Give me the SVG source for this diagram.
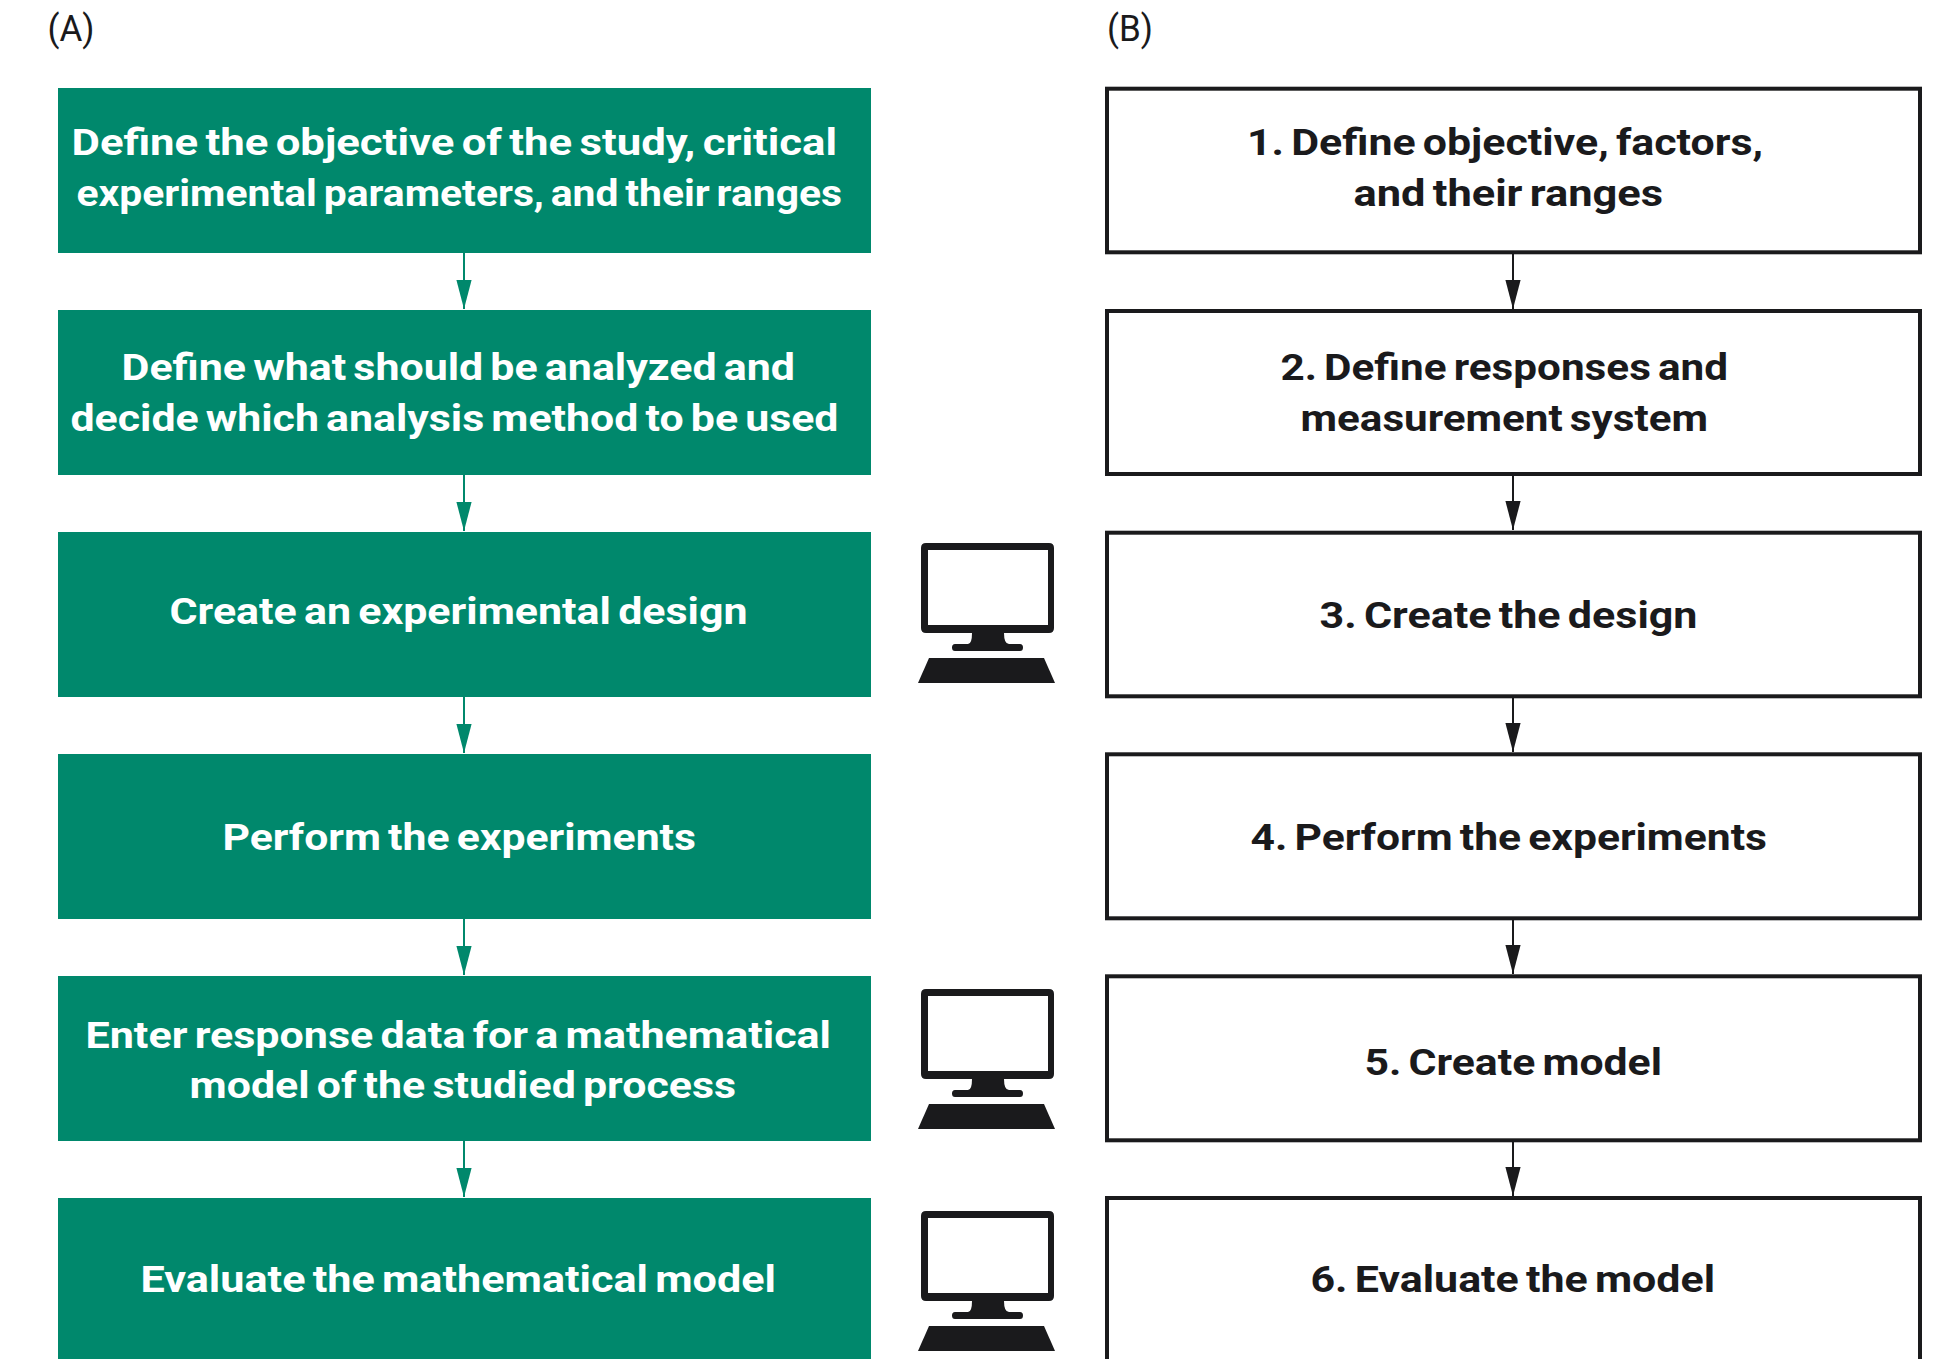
<svg xmlns="http://www.w3.org/2000/svg" width="1946" height="1359" viewBox="0 0 1946 1359">
<style>
text{font-family:"Roboto","Liberation Sans",sans-serif;font-size:37px;font-weight:700;word-spacing:-3px}
.g{fill:#00886c}.w{fill:#fff}.k{fill:#1a1a1c}
.b{fill:#fff;stroke:#1a1a1c;stroke-width:4}
text.lab{font-weight:400;font-size:37px;fill:#1a1a1c}
.cg{stroke:#00886c;stroke-width:2;fill:none;marker-end:url(#ag)}
.ck{stroke:#1a1a1c;stroke-width:2;fill:none;marker-end:url(#ak)}
</style>
<defs>
<marker id="ag" markerUnits="userSpaceOnUse" markerWidth="16" markerHeight="29" refX="8" refY="29" viewBox="0 0 16 29"><path d="M0.4 0H15.6L8 29Z" fill="#00886c"/></marker>
<marker id="ak" markerUnits="userSpaceOnUse" markerWidth="16" markerHeight="29" refX="8" refY="29" viewBox="0 0 16 29"><path d="M0.4 0H15.6L8 29Z" fill="#1a1a1c"/></marker>
<g id="pc">
<path class="k" fill-rule="evenodd" d="M926 543H1049Q1054 543 1054 548V628Q1054 633 1049 633H1004Q1004 644 1009 644H1020Q1023 644 1023 647.500Q1023 651 1020 651H955Q952 651 952 647.500Q952 644 955 644H968Q972 644 972 633H926Q921 633 921 628V548Q921 543 926 543ZM928 550V625H1048V550Z"/>
<path class="k" d="M929 658H1044L1055 683H918Z"/>
</g>
</defs>
<text class="lab" x="47.500" y="41" textLength="47" lengthAdjust="spacingAndGlyphs">(A)</text>
<text class="lab" x="1107" y="41" textLength="46" lengthAdjust="spacingAndGlyphs">(B)</text>
<g id="connectors">
<path class="cg" d="M464 253V309"/><path class="cg" d="M464 475V531"/><path class="cg" d="M464 697V753"/><path class="cg" d="M464 919V975"/><path class="cg" d="M464 1141V1197"/>
<path class="ck" d="M1513 254V309"/><path class="ck" d="M1513 475V530"/><path class="ck" d="M1513 697V752"/><path class="ck" d="M1513 919V974"/><path class="ck" d="M1513 1141V1196"/>
</g>
<g id="a1"><rect class="g" x="58" y="88" width="813" height="165"/><text class="w" x="71.500" y="154.500" textLength="765.500" lengthAdjust="spacingAndGlyphs">Define the objective of the study, critical</text><text class="w" x="76.500" y="205.500" textLength="765.500" lengthAdjust="spacingAndGlyphs">experimental parameters, and their ranges</text></g>
<g id="a2"><rect class="g" x="58" y="310" width="813" height="165"/><text class="w" x="121.500" y="380" textLength="673.500" lengthAdjust="spacingAndGlyphs">Define what should be analyzed and</text><text class="w" x="70.500" y="431" textLength="768" lengthAdjust="spacingAndGlyphs">decide which analysis method to be used</text></g>
<g id="a3"><rect class="g" x="58" y="532" width="813" height="165"/><text class="w" x="169.500" y="623.500" textLength="578" lengthAdjust="spacingAndGlyphs">Create an experimental design</text></g>
<g id="a4"><rect class="g" x="58" y="754" width="813" height="165"/><text class="w" x="222.500" y="849.500" textLength="473.500" lengthAdjust="spacingAndGlyphs">Perform the experiments</text></g>
<g id="a5"><rect class="g" x="58" y="976" width="813" height="165"/><text class="w" x="85.500" y="1047.500" textLength="745.500" lengthAdjust="spacingAndGlyphs">Enter response data for a mathematical</text><text class="w" x="189.500" y="1097.500" textLength="546.500" lengthAdjust="spacingAndGlyphs">model of the studied process</text></g>
<g id="a6"><rect class="g" x="58" y="1198" width="813" height="170"/><text class="w" x="140.500" y="1291.500" textLength="635.500" lengthAdjust="spacingAndGlyphs">Evaluate the mathematical model</text></g>
<g id="pc1"><use href="#pc"/></g>
<g id="pc2"><use href="#pc" y="446"/></g>
<g id="pc3"><use href="#pc" y="668"/></g>
<g id="b1"><rect class="b" x="1107" y="88.700" width="813" height="163.600"/><text class="k" x="1247" y="154.500" textLength="516" lengthAdjust="spacingAndGlyphs">1. Define objective, factors,</text><text class="k" x="1353.500" y="205.500" textLength="309.500" lengthAdjust="spacingAndGlyphs">and their ranges</text></g>
<g id="b2"><rect class="b" x="1107" y="311" width="813" height="163"/><text class="k" x="1280.500" y="380" textLength="447.500" lengthAdjust="spacingAndGlyphs">2. Define responses and</text><text class="k" x="1300.500" y="431" textLength="407.500" lengthAdjust="spacingAndGlyphs">measurement system</text></g>
<g id="b3"><rect class="b" x="1107" y="532.700" width="813" height="163.600"/><text class="k" x="1319.500" y="627.500" textLength="378" lengthAdjust="spacingAndGlyphs">3. Create the design</text></g>
<g id="b4"><rect class="b" x="1107" y="754.300" width="813" height="164"/><text class="k" x="1250.500" y="849.500" textLength="516.500" lengthAdjust="spacingAndGlyphs">4. Perform the experiments</text></g>
<g id="b5"><rect class="b" x="1107" y="976.300" width="813" height="164"/><text class="k" x="1364.500" y="1074.500" textLength="297.500" lengthAdjust="spacingAndGlyphs">5. Create model</text></g>
<g id="b6"><rect class="b" x="1107" y="1198" width="813" height="170"/><text class="k" x="1310.500" y="1291.500" textLength="404.500" lengthAdjust="spacingAndGlyphs">6. Evaluate the model</text></g>
</svg>
